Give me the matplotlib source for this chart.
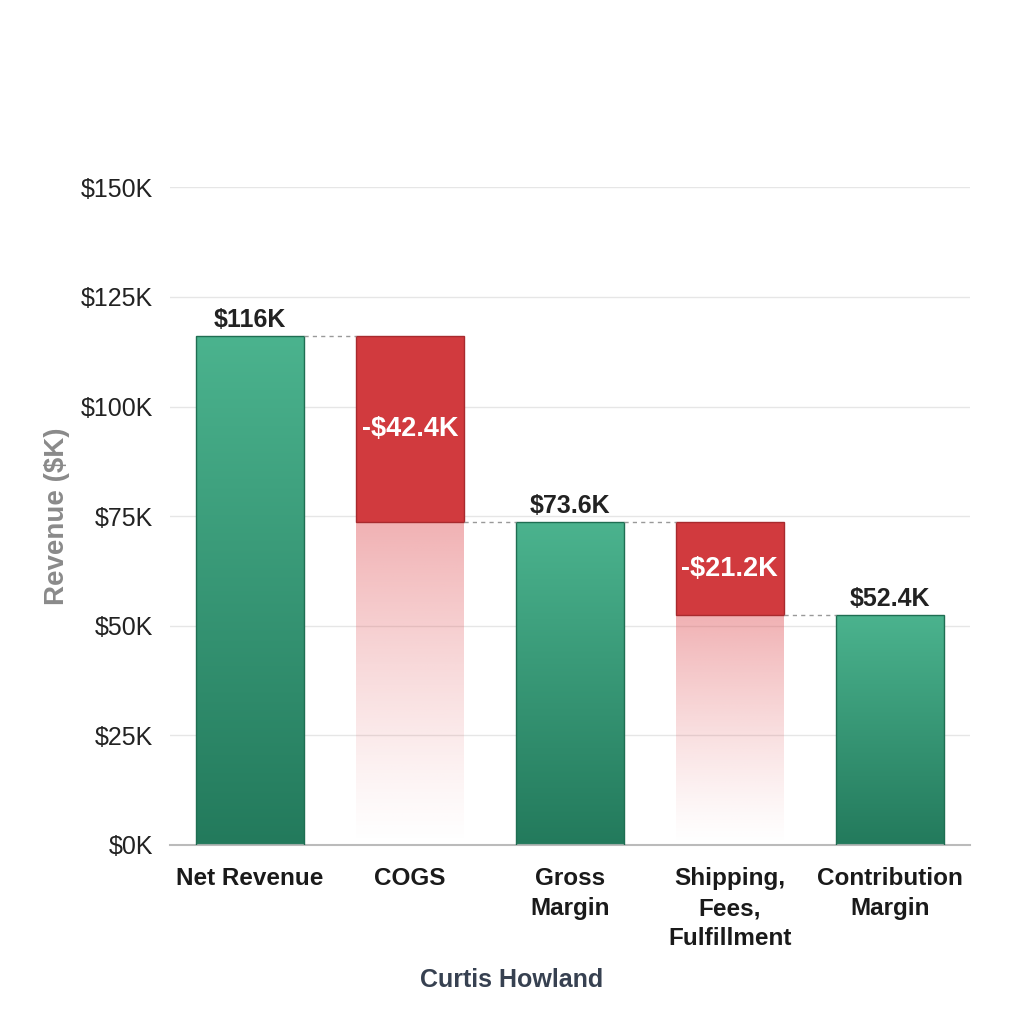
import matplotlib
matplotlib.use('Agg')
import matplotlib.pyplot as plt
import numpy as np
from matplotlib.colors import LinearSegmentedColormap, to_rgba

plt.rcParams['font.family'] = ['Liberation Sans', 'DejaVu Sans']

# Данные (в тысячах USD)
categories = ['Net Revenue', 'COGS', 'Gross\nMargin', 'Shipping,\nFees,\nFulfillment', 'Contribution\nMargin']
steps = [116.0, -42.4, None, -21.2, None]   # None = промежуточный итог
yticks = [0, 25, 50, 75, 100, 125, 150]

# считаем уровни водопада
bottoms, tops, kinds = [], [], []
level = 0.0
for s in steps:
    if s is None:
        bottoms.append(0.0); tops.append(level); kinds.append('total')
    elif s > 0 and level == 0:
        level = s
        bottoms.append(0.0); tops.append(level); kinds.append('total')
    else:
        new = level + s
        bottoms.append(new); tops.append(level); kinds.append('neg')
        level = new

fig = plt.figure(figsize=(10.24, 10.24), dpi=100)
ax = fig.add_axes([0.166, 0.175, 0.781, 0.642])
x = np.arange(len(categories))
width = 0.675

green_cmap = LinearSegmentedColormap.from_list('g', ['#237a5c', '#4bb38e'])
red_col = '#d13a3e'
fade = np.zeros((256, 1, 4))
fade[..., :3] = to_rgba('#e0555a')[:3]
fade[:, 0, 3] = np.linspace(0.0, 0.52, 256) ** 1.2

for i, (b, t, k) in enumerate(zip(bottoms, tops, kinds)):
    if k == 'total':
        rect = ax.bar(x[i], t - b, width, bottom=b, color='none',
                      edgecolor='#1f6e52', linewidth=1.0, zorder=3)[0]
        grad = np.linspace(0, 1, 256).reshape(-1, 1)
        im = ax.imshow(grad, cmap=green_cmap, aspect='auto', origin='lower',
                       extent=(x[i] - width / 2, x[i] + width / 2, b, t), zorder=2)
        im.set_clip_path(rect)
        ax.text(x[i], t + 1.0, f'${t:.3g}K', ha='center', va='bottom',
                fontsize=18, fontweight='bold', color='#222222', zorder=5)
    else:
        ax.bar(x[i], t - b, width, bottom=b, color=red_col,
               edgecolor='#a82a2e', linewidth=1.0, zorder=3)
        ax.imshow(fade, aspect='auto', origin='lower',
                  extent=(x[i] - width / 2, x[i] + width / 2, 0, b), zorder=2)
        ax.text(x[i], (b + t) / 2, f'-${t - b:.1f}K', ha='center', va='center',
                fontsize=19.5, fontweight='bold', color='white', zorder=5)

# пунктирные соединители
for i in range(len(categories) - 1):
    lvl = tops[i] if kinds[i] == 'total' else bottoms[i]
    ax.plot([x[i] + width / 2, x[i + 1] - width / 2], [lvl, lvl],
            ls=(0, (3, 3)), color='#999999', lw=1.0, zorder=4)

ax.set_xlim(-0.5, len(categories) - 0.5)
ax.set_ylim(0, 150)
ax.set_yticks(yticks)
ax.set_yticklabels([f'${v}K' for v in yticks], fontsize=18, color='#222222')
ax.set_xticks(x)
ax.set_xticklabels(categories, fontsize=17.5, fontweight='bold', color='#1a1a1a',
                   linespacing=1.4, va='top')
ax.tick_params(axis='both', length=0)
ax.tick_params(axis='x', pad=16)
ax.tick_params(axis='y', pad=12)
ax.grid(axis='y', color='#e6e6e6', lw=1.0, zorder=0)
ax.set_axisbelow(True)
for side in ['top', 'right', 'left']:
    ax.spines[side].set_visible(False)
ax.spines['bottom'].set_color('#bbbbbb')
ax.spines['bottom'].set_linewidth(1.5)

ax.set_ylabel('Revenue ($K)', fontsize=20, fontweight='bold', color='#8a8a8a', labelpad=8)

fig.text(0.5, 0.043, 'Curtis Howland', ha='center', va='center', fontsize=18,
         fontweight='bold', color='#374151')

fig.savefig('out.png', dpi=100, facecolor='white')
